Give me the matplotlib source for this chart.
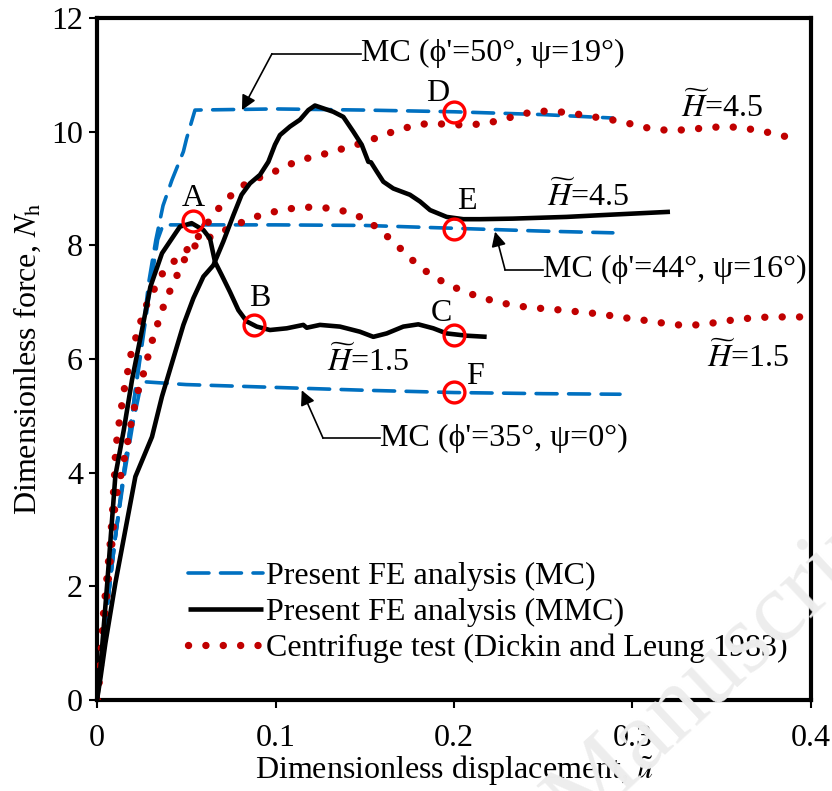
import matplotlib
matplotlib.use("Agg")
import matplotlib.pyplot as plt

plt.rcParams['font.family'] = ['Liberation Serif', 'DejaVu Serif']
plt.rcParams['mathtext.fontset'] = 'stix'

# ---------------- data ----------------
mc35_x = [0, 0.005, 0.01, 0.015, 0.02, 0.024, 0.026, 0.05, 0.1, 0.15, 0.2, 0.25, 0.293]
mc35_y = [0, 1.45, 2.8, 3.9, 4.85, 5.45, 5.6, 5.55, 5.5, 5.45, 5.41, 5.39, 5.38]

mc44_x = [0, 0.005, 0.01, 0.015, 0.02, 0.025, 0.03, 0.034, 0.037, 0.1, 0.15, 0.2, 0.25, 0.289]
mc44_y = [0, 1.45, 2.8, 4.0, 5.1, 6.2, 7.3, 8.1, 8.36, 8.36, 8.35, 8.3, 8.25, 8.22]

mc50_x = [0, 0.005, 0.01, 0.015, 0.02, 0.025, 0.029, 0.033, 0.037, 0.042, 0.0484, 0.0502,
          0.0549, 0.1, 0.15, 0.2, 0.25, 0.289]
mc50_y = [0, 1.45, 2.8, 4.0, 5.1, 6.3, 7.35, 8.1, 8.7, 9.15, 9.65, 9.88,
          10.38, 10.4, 10.38, 10.35, 10.3, 10.24]

mmc15_x = [0, 0.002, 0.0056, 0.0103, 0.015, 0.0196, 0.0252, 0.0299, 0.0364, 0.0439, 0.0465,
           0.053, 0.0596, 0.0633, 0.0661, 0.0698, 0.0745, 0.0792, 0.0839, 0.0895, 0.0969,
           0.1063, 0.1156, 0.1175, 0.1249, 0.1361, 0.1473, 0.1548, 0.1623, 0.1716, 0.18,
           0.1884, 0.1959, 0.2071, 0.2183]
mmc15_y = [0, 0.6, 2.0, 3.95, 4.75, 5.63, 6.51, 7.27, 7.86, 8.21, 8.33,
           8.39, 8.27, 8.12, 7.71, 7.48, 7.18, 6.86, 6.66, 6.57, 6.51,
           6.54, 6.6, 6.55, 6.6, 6.57, 6.48, 6.39, 6.45, 6.57, 6.61,
           6.54, 6.45, 6.41, 6.39]

mmc45_x = [0, 0.002, 0.0047, 0.0103, 0.0215, 0.0308, 0.0364, 0.042, 0.0484, 0.054, 0.0596,
           0.0652, 0.0708, 0.0764, 0.081, 0.0857, 0.0913, 0.096, 0.0997, 0.1025, 0.1081,
           0.1137, 0.1184, 0.1221, 0.1268, 0.1324, 0.138, 0.1436, 0.1483, 0.152, 0.1535,
           0.1567, 0.1604, 0.166, 0.1753, 0.181, 0.1866, 0.1959, 0.2052, 0.2146, 0.233,
           0.263, 0.2818, 0.321]
mmc45_y = [0, 0.4, 1.0, 2.06, 3.93, 4.63, 5.34, 5.93, 6.6, 7.07, 7.45,
           7.65, 8.07, 8.53, 8.89, 9.09, 9.24, 9.47, 9.77, 9.94, 10.09,
           10.21, 10.38, 10.46, 10.41, 10.35, 10.26, 10.0, 9.77, 9.47, 9.46,
           9.3, 9.12, 9.0, 8.89, 8.77, 8.62, 8.5, 8.46, 8.46, 8.47,
           8.5, 8.53, 8.59]

cf45_x = [0, 0.001, 0.002, 0.0037, 0.0056, 0.0075, 0.0088, 0.0093, 0.0099, 0.0103, 0.0112,
          0.0125, 0.014, 0.0155, 0.0174, 0.0192, 0.0219, 0.0248, 0.028, 0.0327, 0.0373,
          0.0439, 0.0514, 0.058, 0.0653, 0.0717, 0.078, 0.0866, 0.096, 0.104, 0.1137, 0.123,
          0.1324, 0.1417, 0.151, 0.16, 0.17, 0.179, 0.188, 0.198, 0.2075, 0.2174, 0.2267,
          0.236, 0.2454, 0.2553, 0.265, 0.2747, 0.284, 0.2939, 0.3032, 0.3126, 0.3225,
          0.3322, 0.3419, 0.3518, 0.3611, 0.3705, 0.3804, 0.3897]
cf45_y = [0, 0.3, 0.7, 1.55, 2.16, 2.79, 3.37, 3.68, 3.99, 4.3, 4.6,
          4.9, 5.21, 5.51, 5.81, 6.11, 6.39, 6.69, 6.97, 7.27, 7.54,
          7.74, 7.95, 8.2, 8.55, 8.77, 8.97, 9.15, 9.24, 9.37, 9.5, 9.57,
          9.65, 9.74, 9.82, 9.94, 10.04, 10.12, 10.15, 10.12, 10.12, 10.14, 10.21,
          10.29, 10.36, 10.36, 10.33, 10.28, 10.23, 10.18, 10.1, 10.04, 10.02,
          10.04, 10.07, 10.09, 10.07, 10.02, 9.96, 9.88]

cf15_x = [0, 0.001, 0.003, 0.006, 0.0088, 0.0099, 0.0114, 0.0136, 0.0155, 0.0174, 0.0192,
          0.0211, 0.0233, 0.0262, 0.0286, 0.0312, 0.0342, 0.0373, 0.041, 0.0454, 0.0493,
          0.0549, 0.0596, 0.068, 0.0773, 0.0857, 0.095, 0.1048, 0.1146, 0.124, 0.1337,
          0.1432, 0.152, 0.1595, 0.167, 0.1735, 0.181, 0.1884, 0.1974, 0.2062, 0.2155,
          0.2248, 0.2342, 0.244, 0.2538, 0.2635, 0.2728, 0.2827, 0.292, 0.302, 0.3117,
          0.321, 0.3307, 0.3406, 0.3499, 0.3598, 0.3695, 0.3794, 0.3892, 0.399]
cf15_y = [0, 0.25, 1.0, 2.0, 2.9, 3.37, 3.68, 3.99, 4.28, 4.58, 4.88,
          5.17, 5.47, 5.76, 6.05, 6.35, 6.64, 6.93, 7.21, 7.51, 7.77,
          7.99, 8.09, 8.21, 8.35, 8.47, 8.56, 8.63, 8.67, 8.67, 8.64,
          8.56, 8.43, 8.24, 8.04, 7.83, 7.62, 7.45, 7.3, 7.18, 7.08,
          7.0, 6.94, 6.9, 6.88, 6.85, 6.82, 6.79, 6.74, 6.7, 6.66,
          6.61, 6.59, 6.61, 6.66, 6.7, 6.73, 6.74, 6.74, 6.74]

point_labels = ['A', 'B', 'C', 'D', 'E', 'F']
point_x = [0.054, 0.088, 0.2, 0.2, 0.2, 0.2]
point_y = [8.42, 6.6, 6.42, 10.35, 8.28, 5.42]

x_ticks = [0, 0.1, 0.2, 0.3, 0.4]
x_tick_labels = ['0', '0.1', '0.2', '0.3', '0.4']
y_ticks = [0, 2, 4, 6, 8, 10, 12]

legend_labels = ['Present FE analysis (MC)', 'Present FE analysis (MMC)',
                 'Centrifuge test (Dickin and Leung 1983)']

# ---------------- styles ----------------
BLUE = '#0070C0'
RED = '#C00000'
FS = 23

fig = plt.figure(figsize=(8.32, 7.91), dpi=100)
ax = fig.add_axes([97/832, 1-700/791, (811-97)/832, (700-18)/791])

dash = (0, (5.8, 3.2))
l_mc, = ax.plot(mc35_x, mc35_y, color=BLUE, lw=2.6, ls=dash, dash_capstyle='round', zorder=2)
ax.plot(mc44_x, mc44_y, color=BLUE, lw=2.6, ls=dash, dash_capstyle='round', zorder=2)
ax.plot(mc50_x, mc50_y, color=BLUE, lw=2.6, ls=dash, dash_capstyle='round', zorder=2)

dot = (0, (0.01, 2.35))
l_cf, = ax.plot(cf45_x, cf45_y, color=RED, lw=5.3, ls=dot, dash_capstyle='round', zorder=3)
ax.plot(cf15_x, cf15_y, color=RED, lw=5.3, ls=dot, dash_capstyle='round', zorder=3)

l_mmc, = ax.plot(mmc15_x, mmc15_y, color='black', lw=3.3, zorder=4,
                 solid_capstyle='butt', solid_joinstyle='round')
ax.plot(mmc45_x, mmc45_y, color='black', lw=3.3, zorder=4,
        solid_capstyle='butt', solid_joinstyle='round')

ax.plot(point_x, point_y, ls='none', marker='o', ms=15, mfc='none', mec='#FF0000', mew=2.4, zorder=5)

label_pos = {'A': (0.054, 8.83), 'B': (0.0913, 7.07), 'C': (0.193, 6.8),
             'D': (0.191, 10.68), 'E': (0.207, 8.77), 'F': (0.2118, 5.69)}
for lab in point_labels:
    lx, ly = label_pos[lab]
    ax.text(lx, ly, lab, fontsize=FS, ha='center', va='center', zorder=6)

# H labels
htxt = r'$\widetilde{H}$'
ax.text(0.327, 10.42, htxt + '=4.5', fontsize=FS, ha='left', va='center')
ax.text(0.252, 8.85, htxt + '=4.5', fontsize=FS, ha='left', va='center')
ax.text(0.342, 6.02, htxt + '=1.5', fontsize=FS, ha='left', va='center')
ax.text(0.129, 5.95, htxt + '=1.5', fontsize=FS, ha='left', va='center')

# annotations for MC curves
def callout(tip, elbow, text_x, text):
    ax.plot([elbow[0], text_x], [elbow[1], elbow[1]], color='black', lw=1.2, zorder=6)
    ax.annotate('', xy=tip, xytext=elbow,
                arrowprops=dict(arrowstyle='-|>', lw=1.2, color='black',
                                mutation_scale=22, shrinkA=0, shrinkB=0), zorder=6)
    ax.text(text_x, elbow[1], text, fontsize=FS, ha='left', va='center', zorder=6)

callout((0.0812, 10.38), (0.098, 11.37), 0.148, "MC (\u03d5'=50\u00b0, \u03c8=19\u00b0)")
callout((0.223, 8.24), (0.2286, 7.57), 0.25, "MC (\u03d5'=44\u00b0, \u03c8=16\u00b0)")
callout((0.1147, 5.45), (0.1266, 4.61), 0.1585, "MC (\u03d5'=35\u00b0, \u03c8=0\u00b0)")

ax.set_xlim(0, 0.4)
ax.set_ylim(0, 12)
ax.set_xticks(x_ticks)
ax.set_xticklabels(x_tick_labels)
ax.set_yticks(y_ticks)
ax.tick_params(direction='out', length=6, width=1.5, labelsize=FS, pad=4)
ax.tick_params(axis='x', pad=11)
for s in ax.spines.values():
    s.set_linewidth(3.0)

ax.set_xlabel(r"Dimensionless displacement, $\tilde{u}$", fontsize=FS, labelpad=0)
ax.set_ylabel(r"Dimensionless force, $N_\mathrm{h}$", fontsize=FS, labelpad=6)

leg = ax.legend([l_mc, l_mmc, l_cf], legend_labels, loc='upper left',
                bbox_to_anchor=((188-97)/714, (700-562)/682), frameon=False,
                fontsize=FS, handlelength=2.35, handletextpad=0.1, labelspacing=0.2,
                borderpad=0, borderaxespad=0)

# faint watermark
fig.text(0.875, 0.165, 'Manuscript', fontsize=72, color='#ededed', rotation=43,
         ha='center', va='center', zorder=0, family='Liberation Serif')

fig.savefig('out.png', dpi=100)
